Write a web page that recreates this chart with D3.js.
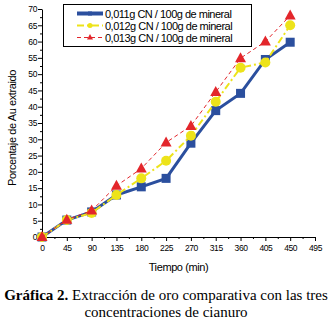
<!DOCTYPE html>
<html>
<head>
<meta charset="utf-8">
<script src="https://cdn.jsdelivr.net/npm/d3@7"></script>
<style>
  body { margin: 0; background: #fff; }
  text { font-family: "Liberation Sans", Arial, sans-serif; }
</style>
</head>
<body>
<div id="chart"></div>
<script>
// Datos
const tiempos = [0, 45, 90, 135, 180, 225, 270, 315, 360, 405, 450];
const serie011 = [0, 5.2, 7.7, 12.9, 15.4, 18, 28.8, 38.8, 44.1, 54.5, 59.8];
const serie012 = [0, 5.2, 7.4, 12.9, 18, 23.4, 31.1, 41.5, 52, 53.6, 65];
const serie013 = [0, 5.3, 8.1, 15.7, 21, 29, 34.1, 44.5, 54.9, 60, 68];
const etiquetas = ['0,011g CN / 100g de mineral', '0,012g CN / 100g de mineral', '0,013g CN / 100g de mineral'];
const xTicks = d3.range(0, 496, 45);
const yTicks = d3.range(0, 71, 5);

const [width, height] = [334, 324];
const margin = { left: 42, top: 9, right: 19, bottom: 87 };

const svg = d3.select('#chart').append('svg')
  .attr('width', width)
  .attr('height', height);

const x = d3.scaleLinear().domain([0, 495]).range([margin.left, width - margin.right]);
const y = d3.scaleLinear().domain([0, 70]).range([height - margin.bottom, margin.top]);

const series = [
  { name: etiquetas[0], values: serie011, color: '#2b4f9e', width: 3, dash: null, marker: 'square' },
  { name: etiquetas[1], values: serie012, color: '#ede31a', width: 2, dash: '7,3,2,3', marker: 'circle' },
  { name: etiquetas[2], values: serie013, color: '#e3262b', width: 1, dash: '4,3', marker: 'triangle' }
];

// Ejes
svg.append('g')
  .attr('transform', `translate(0,${y(0)})`)
  .call(d3.axisBottom(x).tickValues(xTicks).tickSize(4).tickSizeOuter(0).tickPadding(4));
svg.append('g')
  .attr('transform', `translate(0,${y(0)})`)
  .call(d3.axisBottom(x).tickValues(d3.range(22.5, 495, 45)).tickSize(2).tickFormat(''))
  .select('.domain').remove();

svg.append('g')
  .attr('transform', `translate(${x(0)},0)`)
  .call(d3.axisLeft(y).tickValues(yTicks).tickSize(4).tickSizeOuter(0).tickPadding(1));
svg.append('g')
  .attr('transform', `translate(${x(0)},0)`)
  .call(d3.axisLeft(y).tickValues(d3.range(2.5, 70, 5)).tickSize(2).tickFormat(''))
  .select('.domain').remove();

svg.selectAll('.tick text')
  .style('font-size', '8.5px')
  .style('letter-spacing', '-0.4px')
  .attr('fill', '#000');
svg.selectAll('.domain, .tick line').attr('stroke', '#000').attr('stroke-width', 1);

svg.append('text')
  .attr('x', x(247.5))
  .attr('y', 271)
  .attr('text-anchor', 'middle')
  .style('font-size', '11px')
  .style('letter-spacing', '-0.4px')
  .text('Tiempo (min)');

svg.append('text')
  .attr('transform', `translate(16,128) rotate(-90)`)
  .attr('text-anchor', 'middle')
  .style('font-size', '11px')
  .style('letter-spacing', '-0.4px')
  .text('Porcentaje de Au extraido');

// Lineas
const line = d3.line()
  .x((d, i) => x(tiempos[i]))
  .y((d) => y(d));

const drawMarker = (g, type, color, cx, cy) => {
  if (type === 'square') {
    g.append('rect').attr('x', cx - 4.5).attr('y', cy - 4.5).attr('width', 9).attr('height', 9).attr('fill', color);
  } else if (type === 'circle') {
    g.append('circle').attr('cx', cx).attr('cy', cy).attr('r', 5).attr('fill', color);
  } else {
    g.append('path').attr('d', `M${cx},${cy - 6}L${cx + 5.5},${cy + 4}L${cx - 5.5},${cy + 4}Z`).attr('fill', color);
  }
};

series.forEach((s) => {
  const g = svg.append('g');
  g.append('path')
    .datum(s.values)
    .attr('d', line)
    .attr('fill', 'none')
    .attr('stroke', s.color)
    .attr('stroke-width', s.width)
    .attr('stroke-dasharray', s.dash);
  s.values.forEach((v, i) => drawMarker(g, s.marker, s.color, x(tiempos[i]), y(v)));
});

// Leyenda
const legend = svg.append('g');
legend.append('rect')
  .attr('x', 63.5).attr('y', 4.5).attr('width', 188).attr('height', 42)
  .attr('fill', '#fff').attr('stroke', '#000').attr('stroke-width', 1);

series.forEach((s, i) => {
  const ly = 13.5 + i * 12;
  legend.append('line')
    .attr('x1', 77).attr('x2', 103).attr('y1', ly).attr('y2', ly)
    .attr('stroke', s.color).attr('stroke-width', s.width + (i === 0 ? 1 : 0))
    .attr('stroke-dasharray', s.dash);
  const mg = legend.append('g');
  if (s.marker === 'square') {
    mg.append('rect').attr('x', 88).attr('y', ly - 2).attr('width', 4).attr('height', 4).attr('fill', s.color);
  } else if (s.marker === 'circle') {
    mg.append('circle').attr('cx', 90).attr('cy', ly).attr('r', 2.5).attr('fill', s.color);
  } else {
    mg.append('path').attr('d', `M90,${ly - 3.5}L93,${ly + 2}L87,${ly + 2}Z`).attr('fill', s.color);
  }
  legend.append('text')
    .attr('x', 105)
    .attr('y', ly + 4)
    .style('font-size', '11px')
    .style('letter-spacing', '-0.5px')
    .text(s.name);
});

// Titulo
const t1 = svg.append('text')
  .attr('x', 166)
  .attr('y', 300)
  .attr('text-anchor', 'middle')
  .style('font-family', '"Liberation Serif", serif')
  .style('font-size', '15px');
t1.append('tspan').style('font-weight', 'bold').text('Gráfica 2.');
t1.append('tspan').text(' Extracción de oro comparativa con las tres');
svg.append('text')
  .attr('x', 166)
  .attr('y', 317)
  .attr('text-anchor', 'middle')
  .style('font-family', '"Liberation Serif", serif')
  .style('font-size', '15px')
  .text('concentraciones de cianuro');
</script>
</body>
</html>
